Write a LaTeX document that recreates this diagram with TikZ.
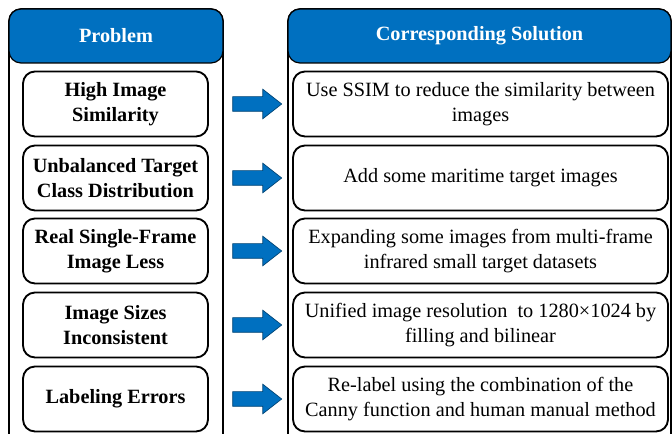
\documentclass[tikz,border=0pt]{standalone}
\usepackage{fontspec}
\setmainfont{Liberation Serif}
\usetikzlibrary{shapes}
\definecolor{hdrblue}{RGB}{0,112,192}

\begin{document}
\begin{tikzpicture}[x=0.75pt,y=-0.75pt]
\tikzstyle{hdr}=[rectangle,rounded corners=9pt,draw,line width=0.9pt,fill=hdrblue,text=white,font=\fontsize{15.2}{18}\selectfont\bfseries,minimum height=40.5pt]
\tikzstyle{probbox}=[rectangle,rounded corners=9pt,draw,line width=1.4pt,align=center,minimum width=138.75pt,minimum height=48.75pt,font=\fontsize{15.2}{18.8}\selectfont\bfseries]
\tikzstyle{solbox}=[probbox,minimum width=281.25pt,font=\fontsize{15.2}{18.8}\selectfont]
\tikzstyle{fatarrow}=[single arrow,draw=hdrblue!60!black,line width=0.5pt,fill=hdrblue,inner xsep=0pt,inner ysep=5.25pt,single arrow head extend=5.6pt,single arrow tip angle=76,single arrow head indent=0pt,minimum height=36.75pt]
\useasboundingbox (0,0) rectangle (672,434);
\clip (0,0) rectangle (672,434);
% containers
\draw[line width=1.2pt,rounded corners=9pt] (9,470) -- (9,9) -- (223,9) -- (223,470);
\draw[line width=1.2pt,rounded corners=9pt] (288,470) -- (288,9) -- (671,9) -- (671,470);
\node[hdr,minimum width=160.5pt] (probhdr) at (116,36) {Problem};
\node[hdr,minimum width=287.25pt] (solhdr) at (479.5,36) {Corresponding Solution};
% rows
\node[probbox] (p1) at (115.5,104) {High Image\\Similarity};
\node[probbox] (p2) at (115.5,178) {Unbalanced Target\\Class Distribution};
\node[probbox] (p3) at (115.5,251) {Real Single-Frame\\Image Less};
\node[probbox] (p4) at (115.5,325) {Image Sizes\\Inconsistent};
\node[probbox] (p5) at (115.5,399) {Labeling Errors};
\node[solbox] (s1) at (480.5,104) {Use SSIM to reduce the similarity between\\images};
\node[solbox] (s2) at (480.5,178) {Add some maritime target images};
\node[solbox] (s3) at (480.5,251) {Expanding some images from multi-frame\\infrared small target datasets};
\node[solbox] (s4) at (480.5,325) {Unified image resolution\ \ to 1280×1024 by\\filling and bilinear};
\node[solbox] (s5) at (480.5,399) {Re-label using the combination of the\\Canny function and human manual method};
\foreach \i/\y in {1/104,2/178,3/251,4/325,5/399}
  \node[fatarrow] (a\i) at (252.5,\y) {};
\end{tikzpicture}
\end{document}
